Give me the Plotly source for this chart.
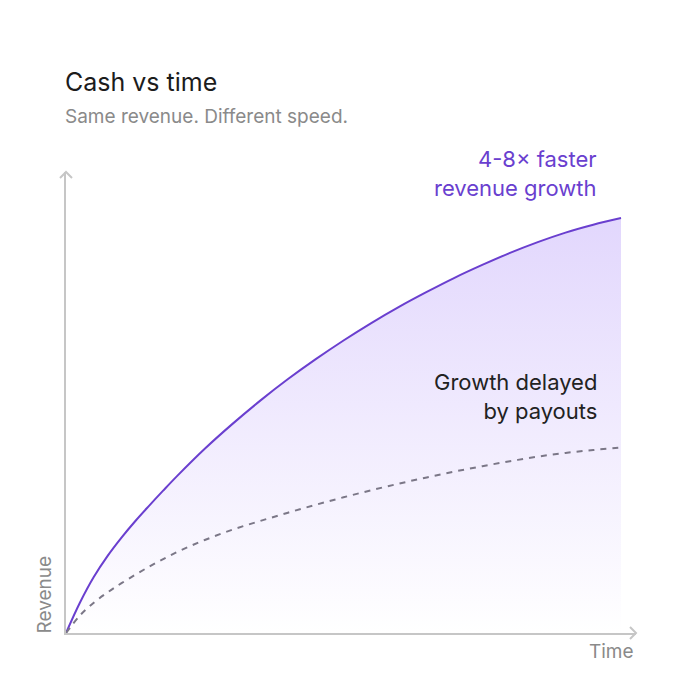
import plotly.graph_objects as go

# ---- data ----
time_fast = [0, 0.25, 0.5, 0.75, 1, 1.25, 1.5, 1.75, 2, 2.5, 3, 3.5, 4, 4.5,
             5, 5.5, 6, 6.5, 7, 7.5, 8, 8.5, 9, 9.5, 10]
revenue_fast = [0, 7.3, 13.5, 18.6, 23.0, 27.0, 30.7, 34.3, 37.8, 44.4, 50.4,
                56.0, 61.2, 66.0, 70.5, 74.7, 78.6, 82.2, 85.6, 88.7, 91.6,
                94.2, 96.5, 98.4, 100.0]

time_slow = [0, 0.25, 0.5, 0.75, 1, 1.5, 2, 2.5, 3, 3.5, 4, 4.5, 5, 5.5, 6,
             6.5, 7, 7.5, 8, 8.5, 9, 9.5, 10]
revenue_slow = [0, 4.2, 7.3, 9.8, 12.0, 16.0, 19.5, 22.4, 24.9, 27.0, 29.0,
                30.9, 32.7, 34.4, 36.0, 37.5, 38.9, 40.2, 41.4, 42.5, 43.4,
                44.1, 44.7]

title_text = "Cash vs time"
subtitle_text = "Same revenue. Different speed."
fast_label = "4-8× faster<br>revenue growth"
slow_label = "Growth delayed<br>by payouts"
x_label = "Time"
y_label = "Revenue"

PURPLE = "#6a3fcf"
GRAY_AXIS = "#c6c6c6"
GRAY_TEXT = "#8a8a8a"
FONT = "Inter"

fig = go.Figure()

fig.add_trace(go.Scatter(
    x=time_fast, y=revenue_fast, mode="lines",
    line=dict(color=PURPLE, width=2, shape="spline", smoothing=1),
    fill="tozeroy",
    fillgradient=dict(type="vertical", start=0, stop=100,
                      colorscale=[[0, "#ffffff"], [1, "#e2d7fd"]]),
    hoverinfo="skip", showlegend=False,
))

fig.add_trace(go.Scatter(
    x=time_slow, y=revenue_slow, mode="lines",
    line=dict(color="#7b7787", width=2, dash="6px,6px", shape="spline", smoothing=1),
    hoverinfo="skip", showlegend=False,
))

annotations = [
    dict(text=title_text, xref="paper", yref="paper", x=0, y=1.195,
         xanchor="left", yanchor="middle", showarrow=False, xshift=-3,
         font=dict(family=FONT, size=25, color="#1c1c1c")),
    dict(text=subtitle_text, xref="paper", yref="paper", x=0, y=1.120,
         xanchor="left", yanchor="middle", showarrow=False, xshift=-3,
         font=dict(family=FONT, size=19, color=GRAY_TEXT)),
    dict(text=fast_label, xref="x", yref="y", x=9.6, y=110.8,
         xanchor="right", yanchor="middle", align="right", showarrow=False,
         font=dict(family=FONT, size=22, color=PURPLE)),
    dict(text=slow_label, xref="x", yref="y", x=9.6, y=56.9,
         xanchor="right", yanchor="middle", align="right", showarrow=False,
         font=dict(family=FONT, size=22, color="#222222")),
    dict(text=x_label, xref="paper", yref="paper", x=1, y=0,
         xanchor="right", yanchor="top", showarrow=False, yshift=-5, xshift=0,
         font=dict(family=FONT, size=19, color=GRAY_TEXT)),
    dict(text=y_label, xref="paper", yref="paper", x=0, y=0,
         xanchor="right", yanchor="bottom", textangle=-90, showarrow=False,
         xshift=-9, yshift=-3,
         font=dict(family=FONT, size=19, color=GRAY_TEXT)),
]

shapes = [
    # arrow head at top of y axis
    dict(type="path", xref="x domain", yref="y domain",
         xsizemode="pixel", ysizemode="pixel", xanchor=0, yanchor=1,
         path="M -6,-6 L 0,0 L 6,-6",
         line=dict(color=GRAY_AXIS, width=2)),
    # arrow head at right of x axis
    dict(type="path", xref="x domain", yref="y domain",
         xsizemode="pixel", ysizemode="pixel", xanchor=1, yanchor=0,
         path="M -6,6 L 0,0 L -6,-6",
         line=dict(color=GRAY_AXIS, width=2)),
]

fig.update_layout(
    width=700, height=700,
    margin=dict(l=58, r=72, t=164, b=75),
    paper_bgcolor="white", plot_bgcolor="white",
    font=dict(family=FONT),
    annotations=annotations, shapes=shapes,
    xaxis=dict(range=[0, 10.27], showgrid=False, zeroline=False,
               showticklabels=False, ticks="", showline=True,
               linecolor=GRAY_AXIS, linewidth=2, fixedrange=True),
    yaxis=dict(range=[0, 111.1], showgrid=False, zeroline=False,
               showticklabels=False, ticks="", showline=True,
               linecolor=GRAY_AXIS, linewidth=2, fixedrange=True),
    hovermode=False,
)

fig.write_html("out.html", config={"displayModeBar": False})
